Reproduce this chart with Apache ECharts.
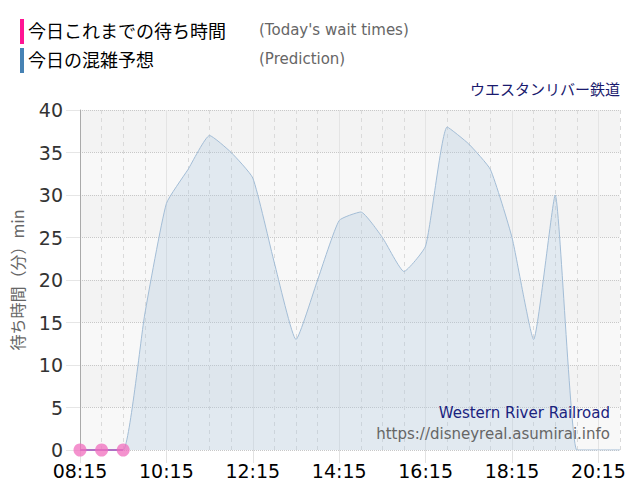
<!DOCTYPE html>
<html>
<head>
<meta charset="utf-8">
<script src="https://cdn.jsdelivr.net/npm/echarts@6/dist/echarts.min.js"></script>
<style>
html,body{margin:0;padding:0;background:#fff;}
#c{width:640px;height:500px;}
</style>
</head>
<body>
<div id="c"></div>
<script>
const categories = ['08:15','08:45','09:15','09:45','10:15','10:45','11:15','11:45','12:15','12:45','13:15','13:45','14:15','14:45','15:15','15:45','16:15','16:45','17:15','17:45','18:15','18:45','19:15','19:45','20:15','20:45'];
const actualWait = [0, 0, 0];
const prediction = [0, 0, 0, 16, 29, 33, 37, 35, 32, 22, 13, 20, 27, 28, 25, 21, 24, 38, 36, 33, 25, 13, 30, 0, 0, 0];
const yTicks = [0, 5, 10, 15, 20, 25, 30, 35, 40];

const num = 'DejaVu Sans, Verdana, sans-serif';
const jp = '"Noto Sans CJK JP", sans-serif';

const chart = echarts.init(document.getElementById('c'), null, {renderer: 'svg'});
chart.setOption({
  animation: false,
  backgroundColor: '#fff',
  grid: {left: 80, right: 20, top: 110, bottom: 50, containLabel: false},
  xAxis: [{
    type: 'category',
    data: categories,
    boundaryGap: false,
    axisLine: {show: false},
    axisTick: {show: true, interval: 3, length: 13, lineStyle: {color: '#e2e2e2'}},
    axisLabel: {interval: 3, color: '#000', fontFamily: num, fontSize: 19, margin: 11},
    splitLine: {show: true, interval: 0, lineStyle: {color: '#dadada', type: [4, 4], width: 1}}
  }, {
    type: 'category',
    data: categories,
    boundaryGap: false,
    position: 'bottom',
    axisLine: {show: false},
    axisTick: {show: false},
    axisLabel: {show: false},
    splitLine: {show: true, interval: 3, lineStyle: {color: '#e4e4e4', type: 'solid', width: 1}}
  }],
  yAxis: {
    type: 'value',
    min: 0, max: 40, interval: 5,
    name: '待ち時間（分）min',
    nameLocation: 'middle',
    nameGap: 55,
    nameRotate: 90,
    nameTextStyle: {color: '#666', fontSize: 16, fontFamily: jp},
    axisLine: {show: true, lineStyle: {color: '#aaa', width: 1}},
    axisTick: {show: true, length: 14, lineStyle: {color: '#e6e6e6'}},
    axisLabel: {color: '#333', fontFamily: num, fontSize: 19, margin: 17,
      formatter: v => yTicks.includes(v) ? String(v) : ''},
    splitLine: {show: true, lineStyle: {color: '#c8c8c8', type: 'dotted', width: 1}},
    splitArea: {show: true, areaStyle: {color: ['#f8f8f8', '#f3f3f3']}}
  },
  series: [{
    name: '今日の混雑予想',
    type: 'line',
    data: prediction,
    smooth: 0.15,
    symbol: 'none',
    lineStyle: {color: '#a3bdd6', width: 1},
    areaStyle: {color: 'rgba(176,200,224,0.45)'},
    z: 2
  }, {
    name: '今日これまでの待ち時間',
    type: 'line',
    data: actualWait,
    symbol: 'circle',
    symbolSize: 13,
    lineStyle: {color: '#b070c4', width: 2},
    itemStyle: {color: 'rgba(240,110,190,0.75)'},
    z: 3
  }],
  graphic: [
    {type: 'rect', left: 20, top: 19, shape: {width: 4, height: 25}, style: {fill: '#ff1493'}},
    {type: 'text', left: 28, top: 21, style: {text: '今日これまでの待ち時間', fill: '#000', font: '18px "Noto Sans CJK JP", sans-serif'}},
    {type: 'text', left: 259, top: 22, style: {text: "(Today's wait times)", fill: '#666', font: '15px "DejaVu Sans", Verdana, sans-serif'}},
    {type: 'rect', left: 20, top: 48, shape: {width: 4, height: 25}, style: {fill: '#4682b4'}},
    {type: 'text', left: 28, top: 50, style: {text: '今日の混雑予想', fill: '#000', font: '18px "Noto Sans CJK JP", sans-serif'}},
    {type: 'text', left: 259, top: 51, style: {text: '(Prediction)', fill: '#666', font: '15px "DejaVu Sans", Verdana, sans-serif'}},
    {type: 'text', right: 20, top: 81, style: {text: 'ウエスタンリバー鉄道', fill: '#1a1a6e', font: '15px "Noto Sans CJK JP", sans-serif'}},
    {type: 'text', right: 30, top: 405, z: 10, style: {text: 'Western River Railroad', fill: '#1a237e', font: '15px "DejaVu Sans", Verdana, sans-serif'}},
    {type: 'text', right: 30, top: 426, z: 10, style: {text: 'https://disneyreal.asumirai.info', fill: '#666', font: '15px "DejaVu Sans", Verdana, sans-serif'}}
  ]
});
</script>
</body>
</html>
